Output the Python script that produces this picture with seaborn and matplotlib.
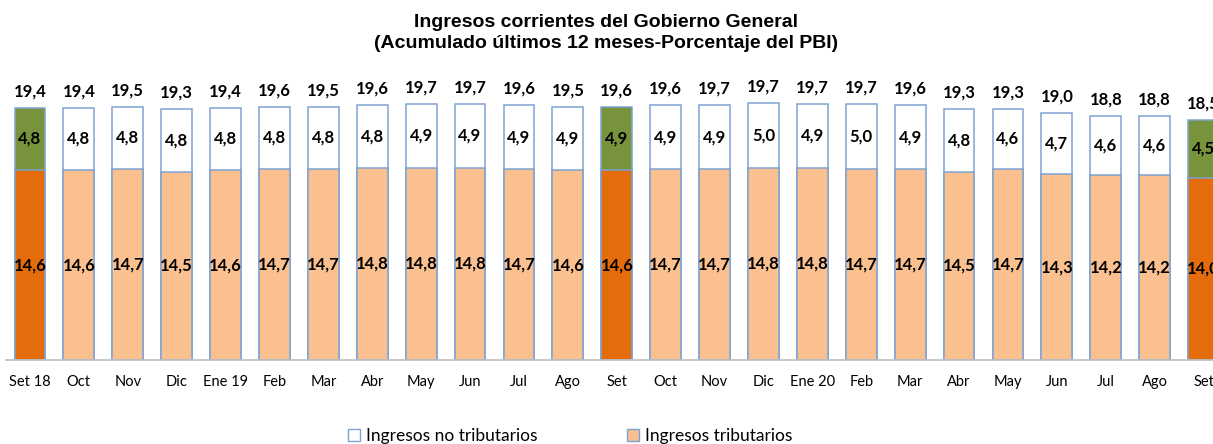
import pandas as pd
import seaborn as sns
import matplotlib.pyplot as plt
from matplotlib.patches import Patch

# Data
meses = ["Set 18", "Oct", "Nov", "Dic", "Ene 19", "Feb", "Mar", "Abr", "May", "Jun", "Jul", "Ago",
         "Set", "Oct", "Nov", "Dic", "Ene 20", "Feb", "Mar", "Abr", "May", "Jun", "Jul", "Ago", "Set"]
tributarios = [14.6, 14.6, 14.7, 14.5, 14.6, 14.7, 14.7, 14.8, 14.8, 14.8, 14.7, 14.6,
               14.6, 14.7, 14.7, 14.8, 14.8, 14.7, 14.7, 14.5, 14.7, 14.3, 14.2, 14.2, 14.0]
no_tributarios = [4.8, 4.8, 4.8, 4.8, 4.8, 4.8, 4.8, 4.8, 4.9, 4.9, 4.9, 4.9,
                  4.9, 4.9, 4.9, 5.0, 4.9, 5.0, 4.9, 4.8, 4.6, 4.7, 4.6, 4.6, 4.5]
totales = [19.4, 19.4, 19.5, 19.3, 19.4, 19.6, 19.5, 19.6, 19.7, 19.7, 19.6, 19.5,
           19.6, 19.6, 19.7, 19.7, 19.7, 19.7, 19.6, 19.3, 19.3, 19.0, 18.8, 18.8, 18.5]
destacados = [0, 12, 24]  # the "Set" months

sns.set_theme(style="white")
plt.rcParams["font.family"] = ["Lato", "DejaVu Sans"]
plt.rcParams["text.color"] = "black"

df = pd.DataFrame({
    "pos": range(len(meses)),
    "trib": tributarios,
    "notrib": no_tributarios,
})
df["suma"] = df["trib"] + df["notrib"]

edge = "#7EA3D3"
col_top = ["#77933C" if i in destacados else "white" for i in df["pos"]]
col_bot = ["#E46C0A" if i in destacados else "#FAC090" for i in df["pos"]]

fig = plt.figure(figsize=(12.13, 4.44), dpi=100)
ax = fig.add_axes([5.5 / 1213, 84 / 444, 1222.5 / 1213, 286 / 444])

# upper segment (drawn as full height, lower segment painted over it)
sns.barplot(data=df, x="pos", y="suma", hue="pos", palette=col_top, legend=False,
            saturation=1, width=0.63, edgecolor=edge, linewidth=1.1, ax=ax)
sns.barplot(data=df, x="pos", y="trib", hue="pos", palette=col_bot, legend=False,
            saturation=1, width=0.63, edgecolor=edge, linewidth=1.1, ax=ax)

for i in df["pos"]:
    t = df.loc[i, "trib"]
    n = df.loc[i, "notrib"]
    ax.text(i, t / 2, f"{t:.1f}".replace(".", ","), ha="center", va="center",
            fontsize=12, fontweight="bold", color="black")
    ax.text(i, t + n / 2, f"{n:.1f}".replace(".", ","), ha="center", va="center",
            fontsize=12, fontweight="bold", color="black")
    ax.annotate(f"{totales[i]:.1f}".replace(".", ","), (i, t + n), xytext=(0, 6),
                textcoords="offset points", ha="center", va="bottom",
                fontsize=12, fontweight="bold", color="black")

ax.set_xlim(-0.5, len(meses) - 0.5)
ax.set_ylim(0, 22)
ax.set_xticks(range(len(meses)))
ax.set_xticklabels(meses, fontsize=10.5, color="black")
ax.tick_params(axis="x", length=0, pad=11)
ax.set_yticks([])
ax.set_xlabel("")
ax.set_ylabel("")
for s in ["top", "left", "right"]:
    ax.spines[s].set_visible(False)
ax.spines["bottom"].set_color("#BFBFBF")
ax.spines["bottom"].set_linewidth(1.2)

fig.text(0.5, 1 - 33 / 444,
         "Ingresos corrientes del Gobierno General\n(Acumulado últimos 12 meses-Porcentaje del PBI)",
         ha="center", va="center", fontsize=14, fontweight="bold", color="black",
         family=["Liberation Sans", "DejaVu Sans"], linespacing=1.25)

handles = [Patch(facecolor="white", edgecolor=edge, label="Ingresos no tributarios"),
           Patch(facecolor="#FAC090", edgecolor=edge, label="Ingresos tributarios")]
fig.legend(handles=handles, loc="center", bbox_to_anchor=(0.47, 1 - 436 / 444), ncol=2,
           frameon=False, fontsize=12.5, handlelength=0.7, handleheight=0.7,
           handletextpad=0.3, columnspacing=5.2)

fig.savefig("out.png", dpi=100)
